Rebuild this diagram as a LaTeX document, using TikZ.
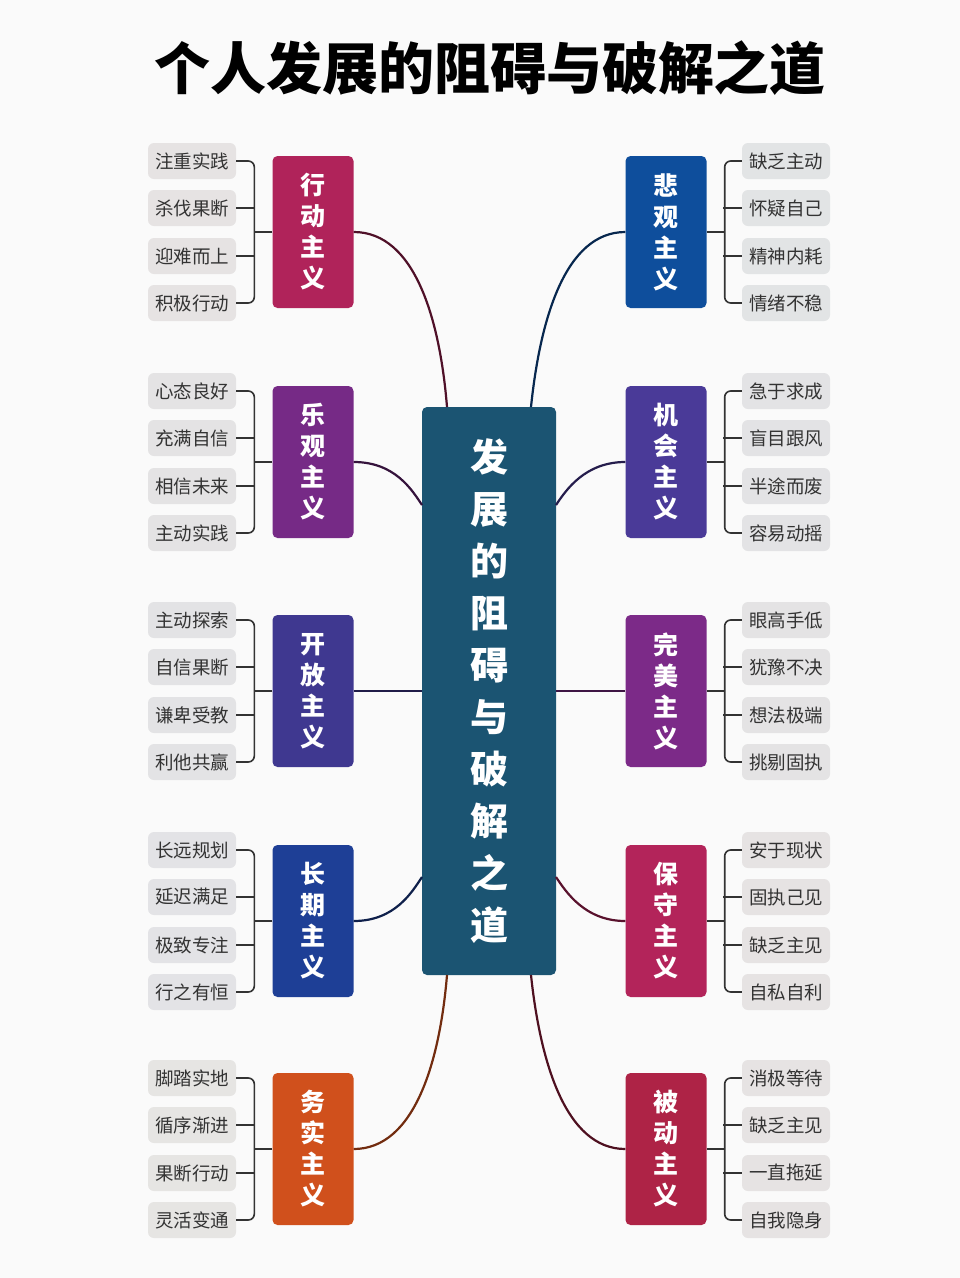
\documentclass[tikz,border=0pt]{standalone}
\usepackage{fontspec}
\setmainfont{Noto Sans CJK SC}
\begin{document}
\begin{tikzpicture}[x=1pt,y=-1pt,
  box/.style={draw=none,rounded corners=5pt,minimum width=81pt,minimum height=152pt,text=white,align=center,font=\fontsize{25}{31}\selectfont\bfseries},
  leaf/.style={rounded corners=6pt,minimum width=88pt,minimum height=36pt,inner sep=0pt,text=black!80,font=\fontsize{18.5}{20}\selectfont},
  br/.style={draw=black!80,line width=1.6pt,rounded corners=6pt},
  con/.style={line width=2.2pt}]
\fill[black!2] (0,0) rectangle (960,1278);
\useasboundingbox (0,0) rectangle (960,1278);
\node (title) at (490,68) {\fontsize{56}{60}\selectfont\bfseries 个人发展的阻碍与破解之道};
\definecolor{cc}{HTML}{1B5472}
\node[box,fill=cc,minimum width=134pt,minimum height=568pt,font=\fontsize{38}{52}\selectfont\bfseries] (C) at (489,691) {发\\展\\的\\阻\\碍\\与\\破\\解\\之\\道};
\newcommand{\lgrp}[8]{%
  \node[box,fill=#3] (#1) at (313,#2) {#4};
  \node[leaf,fill=#5] (#1a) at (192,#2-71) {#6};
  \node[leaf,fill=#5] (#1b) at (192,#2-24) {#7};
  \node[leaf,fill=#5] (#1c) at (192,#2+24) {#8};
}
\newcommand{\rgrp}[8]{%
  \node[box,fill=#3] (#1) at (666,#2) {#4};
  \node[leaf,fill=#5] (#1a) at (786,#2-71) {#6};
  \node[leaf,fill=#5] (#1b) at (786,#2-24) {#7};
  \node[leaf,fill=#5] (#1c) at (786,#2+24) {#8};
}
\newcommand{\lbr}[1]{%
  \draw[br] (#1a.east) -| ([xshift=-18pt]#1.west) |- (#1d.east);
  \draw[br] (#1b.east) -- +(19,0); \draw[br] (#1c.east) -- +(19,0);
  \draw[br] (#1.west) -- +(-18,0);
}
\newcommand{\rbr}[1]{%
  \draw[br] (#1a.west) -| ([xshift=18pt]#1.east) |- (#1d.west);
  \draw[br] (#1b.west) -- +(-19,0); \draw[br] (#1c.west) -- +(-19,0);
  \draw[br] (#1.east) -- +(18,0);
}
\definecolor{c1}{HTML}{B0235A}\definecolor{c2}{HTML}{762A86}\definecolor{c3}{HTML}{3F3890}
\definecolor{c4}{HTML}{1E3F96}\definecolor{c5}{HTML}{D0501C}
\definecolor{d1}{HTML}{0E4E9C}\definecolor{d2}{HTML}{4A3A98}\definecolor{d3}{HTML}{7C2A88}
\definecolor{d4}{HTML}{B3245A}\definecolor{d5}{HTML}{AE2346}
\colorlet{l1}{red!10!black!11}\colorlet{l2}{violet!10!black!11}\colorlet{l3}{blue!9!black!11}
\colorlet{l4}{blue!12!black!11}\colorlet{l5}{orange!12!black!11}\colorlet{r1}{cyan!12!black!13}
\lgrp{A}{232}{c1}{行\\动\\主\\义}{l1}{注重实践}{杀伐果断}{迎难而上}
\node[leaf,fill=l1] (Ad) at (192,303) {积极行动};
\lgrp{B}{462}{c2}{乐\\观\\主\\义}{l2}{心态良好}{充满自信}{相信未来}
\node[leaf,fill=l2] (Bd) at (192,533) {主动实践};
\lgrp{E}{691}{c3}{开\\放\\主\\义}{l3}{主动探索}{自信果断}{谦卑受教}
\node[leaf,fill=l3] (Ed) at (192,762) {利他共赢};
\lgrp{F}{921}{c4}{长\\期\\主\\义}{l4}{长远规划}{延迟满足}{极致专注}
\node[leaf,fill=l4] (Fd) at (192,992) {行之有恒};
\lgrp{G}{1149}{c5}{务\\实\\主\\义}{l5}{脚踏实地}{循序渐进}{果断行动}
\node[leaf,fill=l5] (Gd) at (192,1220) {灵活变通};
\rgrp{P}{232}{d1}{悲\\观\\主\\义}{r1}{缺乏主动}{怀疑自己}{精神内耗}
\node[leaf,fill=r1] (Pd) at (786,303) {情绪不稳};
\rgrp{Q}{462}{d2}{机\\会\\主\\义}{l3}{急于求成}{盲目跟风}{半途而废}
\node[leaf,fill=l3] (Qd) at (786,533) {容易动摇};
\rgrp{R}{691}{d3}{完\\美\\主\\义}{l2}{眼高手低}{犹豫不决}{想法极端}
\node[leaf,fill=l2] (Rd) at (786,762) {挑剔固执};
\rgrp{S}{921}{d4}{保\\守\\主\\义}{l1}{安于现状}{固执己见}{缺乏主见}
\node[leaf,fill=l1] (Sd) at (786,992) {自私自利};
\rgrp{T}{1149}{d5}{被\\动\\主\\义}{l1}{消极等待}{缺乏主见}{一直拖延}
\node[leaf,fill=l1] (Td) at (786,1220) {自我隐身};
\foreach \g in {A,B,E,F,G}{\lbr{\g}}
\foreach \g in {P,Q,R,S,T}{\rbr{\g}}
\coordinate (Ct1) at (447,407); \coordinate (Ct2) at (531,407);
\coordinate (Cb1) at (447,975); \coordinate (Cb2) at (531,975);
\coordinate (Cl1) at (422,505); \coordinate (Cr1) at (556,505);
\coordinate (Cl2) at (422,877); \coordinate (Cr2) at (556,877);
\draw[con,draw=c1!45!black] (A.east) .. controls (415,232) and (440,320) .. (Ct1);
\draw[con,draw=c2!45!black] (B.east) .. controls (395,462) and (412,490) .. (Cl1);
\draw[con,draw=c3!50!black] (E.east) -- (E.east -| C.west);
\draw[con,draw=c4!50!black] (F.east) .. controls (395,921) and (412,892) .. (Cl2);
\draw[con,draw=c5!55!black] (G.east) .. controls (415,1149) and (440,1060) .. (Cb1);
\draw[con,draw=d1!50!black] (P.west) .. controls (565,232) and (540,320) .. (Ct2);
\draw[con,draw=d2!50!black] (Q.west) .. controls (585,462) and (566,490) .. (Cr1);
\draw[con,draw=d3!50!black] (R.west) -- (R.west -| C.east);
\draw[con,draw=d4!50!black] (S.west) .. controls (585,921) and (566,892) .. (Cr2);
\draw[con,draw=d5!45!black] (T.west) .. controls (565,1149) and (540,1060) .. (Cb2);
\end{tikzpicture}
\end{document}
